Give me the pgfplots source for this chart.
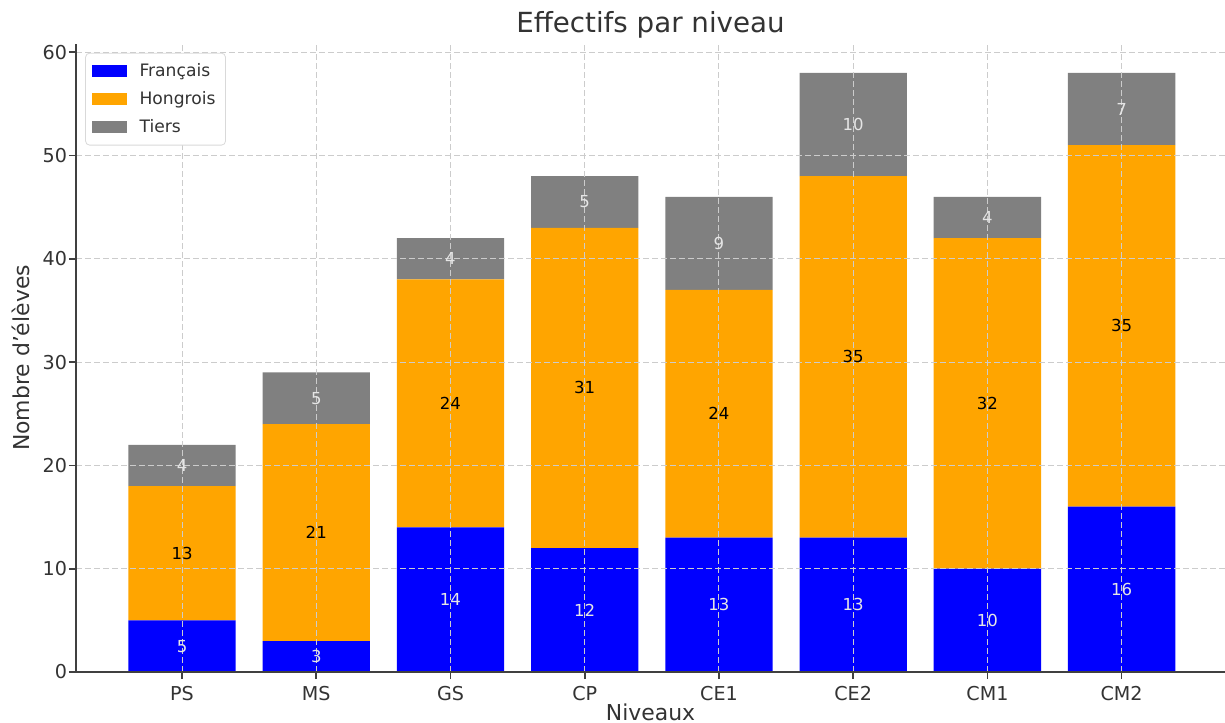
\documentclass[border=0pt]{standalone}
\usepackage{pgfplots}
\pgfplotsset{compat=1.18}
\usepackage{fontspec}
\setmainfont{DejaVu Sans}

\definecolor{fr}{RGB}{0,0,255}
\definecolor{hu}{RGB}{255,165,0}
\definecolor{ti}{RGB}{128,128,128}
\definecolor{txt}{RGB}{51,51,51}

% shared frame of both axes (1px = 0.5bp)
\pgfplotsset{
  frame/.style={
    scale only axis,
    width=574.5bp, height=314bp,
    xmin=-0.79, xmax=7.77,
    ymin=0, ymax=60.8,
  },
}

\begin{document}
\begin{tikzpicture}
\begin{axis}[
  name=main,
  frame,
  ybar stacked,
  bar width=0.8,
  axis on top,
  axis x line*=bottom,
  axis y line*=left,
  axis line style={black!75, line width=0.8bp},
  xtick={0,...,7},
  xticklabels={PS,MS,GS,CP,CE1,CE2,CM1,CM2},
  ytick={0,10,...,60},
  tick align=outside,
  major tick length=3.5bp,
  tick style={black!75, line width=0.8bp},
  ticklabel style={font=\fontsize{9.6}{11}\selectfont, text=txt},
  yticklabel style={xshift=2.5bp},
  /pgf/number format/assume math mode=true,
  grid=major,
  major grid style={black!20, line width=0.5bp, dash pattern=on 3bp off 1.5bp},
  title={Effectifs par niveau},
  title style={font=\fontsize{13.9}{16}\selectfont, text=txt, at={(axis description cs:0.5,1)}, anchor=south, inner sep=0pt, yshift=-3.5bp},
  xlabel={Niveaux},
  xlabel style={font=\fontsize{11}{13}\selectfont, text=txt, at={(axis description cs:0.5,-0.05)}, anchor=north, inner sep=0pt},
  ylabel={Nombre d\symbol{"0027}élèves},
  ylabel style={font=\fontsize{11}{13}\selectfont, text=txt, at={(axis description cs:-0.038,0.5)}, anchor=south, inner sep=1bp},
  legend cell align=left,
  legend style={at={(axis description cs:0.008,0.986)}, anchor=north west,
    draw=black!15, rounded corners=2bp, fill=white,
    font=\fontsize{8.6}{10}\selectfont, text=txt,
    row sep=2bp, inner xsep=3bp, inner ysep=3bp},
  legend image code/.code={
    \fill[#1, sharp corners] (0bp,-3bp) rectangle (17.5bp,3bp);
    \path (22bp,0bp);},
]
\addplot[fill=fr, draw=none] coordinates {(0,5) (1,3) (2,14) (3,12) (4,13) (5,13) (6,10) (7,16)};
\addplot[fill=hu, draw=none] coordinates {(0,13) (1,21) (2,24) (3,31) (4,24) (5,35) (6,32) (7,35)};
\addplot[fill=ti, draw=none] coordinates {(0,4) (1,5) (2,4) (3,5) (4,9) (5,10) (6,4) (7,7)};
\legend{Français,Hongrois,Tiers}
\end{axis}

% segment values, written at the middle of each segment
\begin{axis}[frame, hide axis, clip=false,
  nodes near coords, point meta=explicit symbolic,
  nodes near coords style={anchor=center, font=\fontsize{8.3}{10}\selectfont}]
\addplot[draw=none, nodes near coords style={text=white!90!black}] coordinates {
  (0,2.5)[5] (1,1.5)[3] (2,7)[14] (3,6)[12] (4,6.5)[13] (5,6.5)[13] (6,5)[10] (7,8)[16]};
\addplot[draw=none, nodes near coords style={text=black}] coordinates {
  (0,11.5)[13] (1,13.5)[21] (2,26)[24] (3,27.5)[31] (4,25)[24] (5,30.5)[35] (6,26)[32] (7,33.5)[35]};
\addplot[draw=none, nodes near coords style={text=white!90!black}] coordinates {
  (0,20)[4] (1,26.5)[5] (2,40)[4] (3,45.5)[5] (4,41.5)[9] (5,53)[10] (6,44)[4] (7,54.5)[7]};
\end{axis}

% page margins as in the reference
\pgfresetboundingbox
\path ([xshift=-38bp, yshift=-25.5bp]main.south west) rectangle ([yshift=22bp]main.north east);
\end{tikzpicture}
\end{document}
